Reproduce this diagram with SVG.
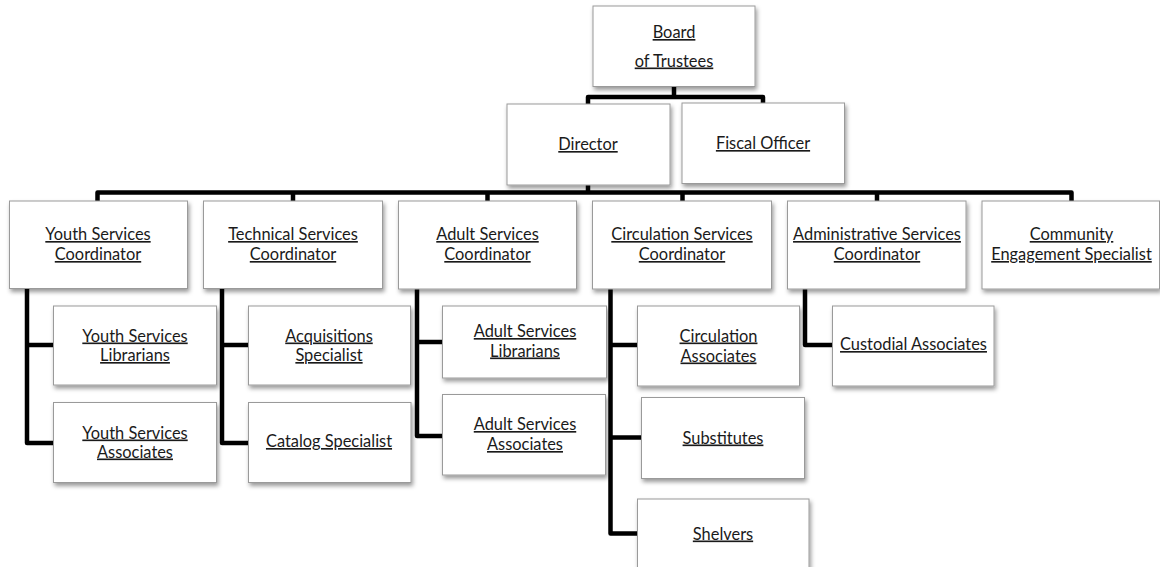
<svg xmlns="http://www.w3.org/2000/svg" width="1160" height="567" viewBox="0 0 1160 567">
<defs>
<filter id="sh" x="-10%" y="-10%" width="125%" height="130%">
<feDropShadow dx="1.5" dy="3" stdDeviation="2" flood-color="#000" flood-opacity="0.4"/>
</filter>
<style>
.box{fill:#fff;stroke:#9a9a9a;stroke-width:1;filter:url(#sh)}
.t{font-family:Lato,"Liberation Sans",sans-serif;font-size:16.4px;fill:#1a1a1a;text-anchor:middle;text-decoration:underline}
.c{fill:none;stroke:#000;stroke-width:4.5;stroke-linejoin:round;stroke-linecap:butt}
</style>
</defs>
<rect width="1160" height="567" fill="#fff"/>
<g id="connectors">
<path class="c" d="M674,86 V97"/>
<path class="c" d="M588,104 V97 H763 V103"/>
<path class="c" d="M588,185 V192.5"/>
<path class="c" d="M97.5,201 V192.5 H1071.5 V201"/>
<path class="c" d="M293,192.5 V201"/>
<path class="c" d="M487.5,192.5 V201"/>
<path class="c" d="M682.5,192.5 V201"/>
<path class="c" d="M877,192.5 V201"/>
<path class="c" d="M27,288 V443 H54"/>
<path class="c" d="M27,345 H54"/>
<path class="c" d="M222,288 V443 H249"/>
<path class="c" d="M222,345 H249"/>
<path class="c" d="M417,289 V436 H443"/>
<path class="c" d="M417,342 H443"/>
<path class="c" d="M610.5,289 V533.5 H638"/>
<path class="c" d="M610.5,345 H638"/>
<path class="c" d="M610.5,437.5 H642"/>
<path class="c" d="M805,289 V345 H833"/>
</g>
<g id="board"><rect class="box" x="593" y="6" width="162" height="80.5"/><text class="t" x="674" y="38">Board</text><text class="t" x="674" y="66.5">of Trustees</text></g>
<g id="director"><rect class="box" x="507" y="104" width="163" height="81"/><text class="t" x="588" y="150">Director</text></g>
<g id="fiscal"><rect class="box" x="682" y="103" width="162.5" height="80.5"/><text class="t" x="763" y="149">Fiscal Officer</text></g>
<g id="youth"><rect class="box" x="9.5" y="201" width="178" height="87.5"/><text class="t" x="98" y="240">Youth Services</text><text class="t" x="98" y="260">Coordinator</text></g>
<g id="technical"><rect class="box" x="203.5" y="201" width="179" height="87.5"/><text class="t" x="293" y="240">Technical Services</text><text class="t" x="293" y="260">Coordinator</text></g>
<g id="adult"><rect class="box" x="398.5" y="201" width="178" height="88"/><text class="t" x="487.5" y="240">Adult Services</text><text class="t" x="487.5" y="260">Coordinator</text></g>
<g id="circulation"><rect class="box" x="592.5" y="201" width="179" height="88"/><text class="t" x="682" y="240">Circulation Services</text><text class="t" x="682" y="260">Coordinator</text></g>
<g id="administrative"><rect class="box" x="787.5" y="201" width="178.5" height="88"/><text class="t" x="877" y="240">Administrative Services</text><text class="t" x="877" y="260">Coordinator</text></g>
<g id="community"><rect class="box" x="982" y="201" width="177.5" height="88"/><text class="t" x="1071.5" y="240">Community</text><text class="t" x="1071.5" y="260">Engagement Specialist</text></g>
<g id="youth-librarians"><rect class="box" x="53.5" y="306" width="163" height="79"/><text class="t" x="135" y="341.5">Youth Services</text><text class="t" x="135" y="361">Librarians</text></g>
<g id="youth-associates"><rect class="box" x="53.5" y="402.5" width="163" height="80"/><text class="t" x="135" y="438.5">Youth Services</text><text class="t" x="135" y="457.5">Associates</text></g>
<g id="acquisitions"><rect class="box" x="248.5" y="306" width="162" height="79"/><text class="t" x="329" y="341.5">Acquisitions</text><text class="t" x="329" y="361">Specialist</text></g>
<g id="catalog"><rect class="box" x="248.5" y="402.5" width="162.5" height="80"/><text class="t" x="329" y="447">Catalog Specialist</text></g>
<g id="adult-librarians"><rect class="box" x="442.5" y="306" width="164" height="72"/><text class="t" x="525" y="337">Adult Services</text><text class="t" x="525" y="356.5">Librarians</text></g>
<g id="adult-associates"><rect class="box" x="442.5" y="394.5" width="163" height="80.5"/><text class="t" x="525" y="430">Adult Services</text><text class="t" x="525" y="450">Associates</text></g>
<g id="circ-associates"><rect class="box" x="637.5" y="306" width="162" height="80"/><text class="t" x="718.5" y="341.5">Circulation</text><text class="t" x="718.5" y="361.5">Associates</text></g>
<g id="substitutes"><rect class="box" x="641.5" y="397.5" width="163" height="81"/><text class="t" x="723" y="443.5">Substitutes</text></g>
<g id="shelvers"><rect class="box" x="637.5" y="499" width="171.5" height="75"/><text class="t" x="723" y="539.5">Shelvers</text></g>
<g id="custodial"><rect class="box" x="832.5" y="306" width="161.5" height="80"/><text class="t" x="913.5" y="350">Custodial Associates</text></g>
</svg>
